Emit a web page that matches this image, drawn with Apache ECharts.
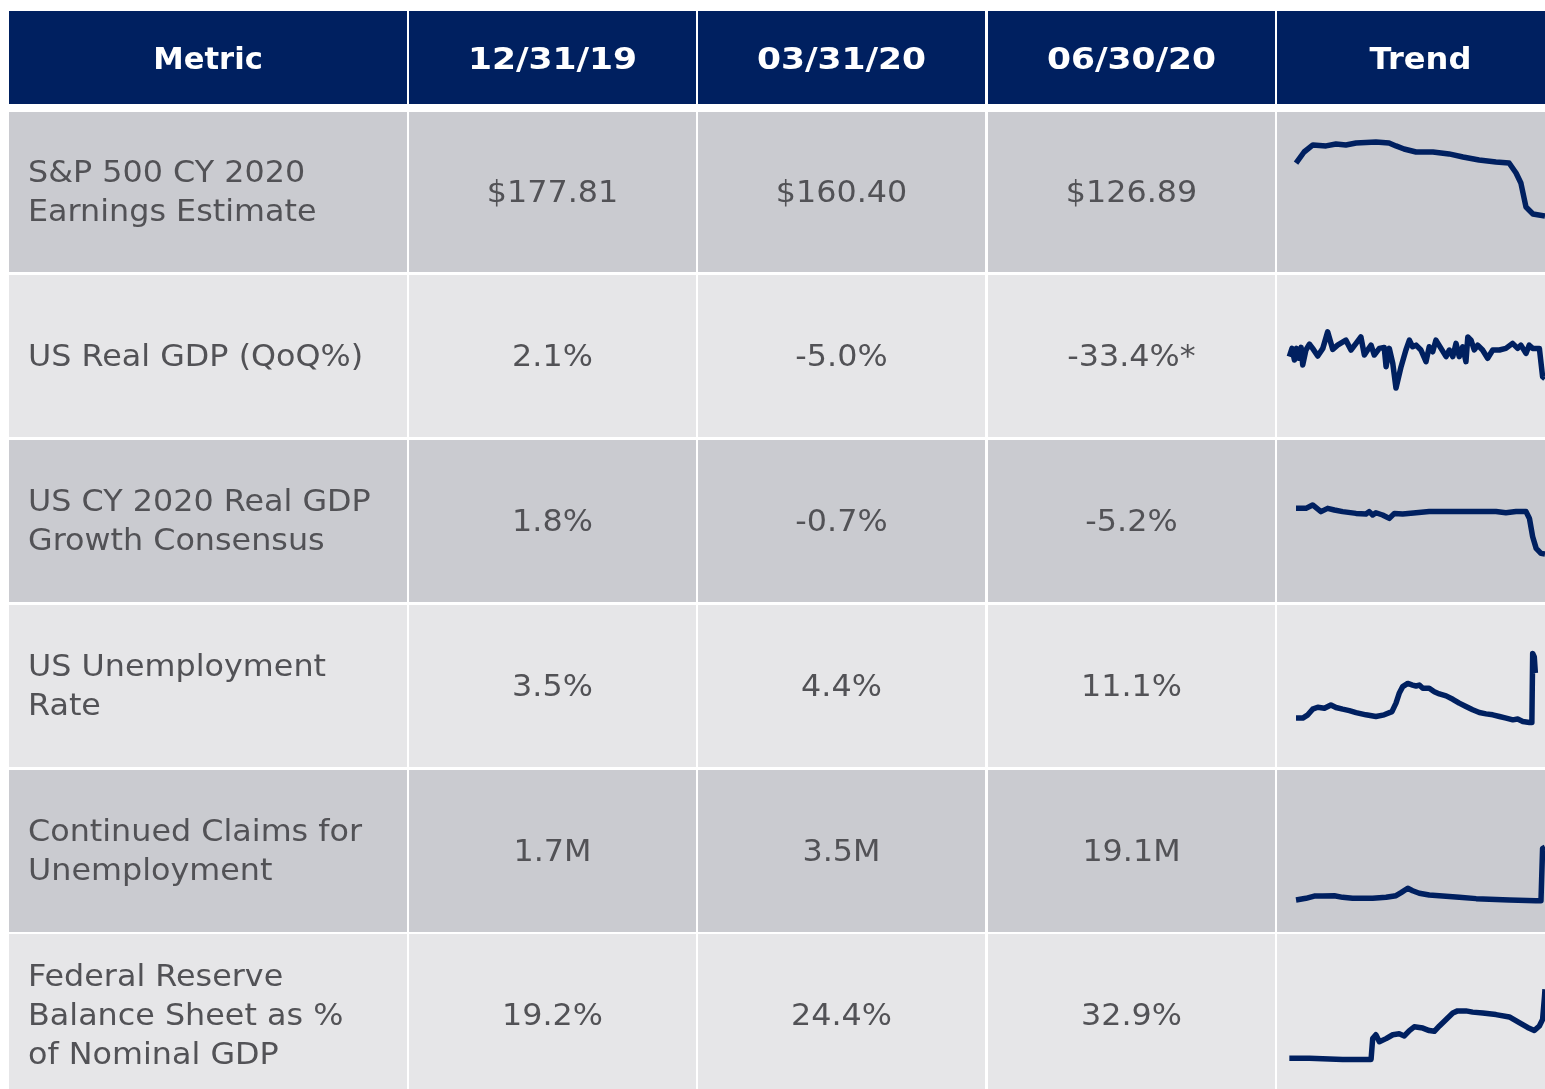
<!DOCTYPE html>
<html>
<head>
<meta charset="utf-8">
<style>
html, body {margin: 0; padding: 0; background: #fff}
#chart {width: 1545px; height: 1089px}
</style>
</head>
<body>
<div id="chart"></div>
<script src="https://cdn.jsdelivr.net/npm/echarts@6/dist/echarts.min.js"></script>
<script>
// table content
var headers = ['Metric', '12/31/19', '03/31/20', '06/30/20', 'Trend'];
var metrics = [
    'S&P 500 CY 2020\nEarnings Estimate',
    'US Real GDP (QoQ%)',
    'US CY 2020 Real GDP\nGrowth Consensus',
    'US Unemployment\nRate',
    'Continued Claims for\nUnemployment',
    'Federal Reserve\nBalance Sheet as %\nof Nominal GDP'
];
var val1219 = ['$177.81', '2.1%', '1.8%', '3.5%', '1.7M', '19.2%'];
var val0331 = ['$160.40', '-5.0%', '-0.7%', '4.4%', '3.5M', '24.4%'];
var val0630 = ['$126.89', '-33.4%*', '-5.2%', '11.1%', '19.1M', '32.9%'];

// sparklines: [relative time 0-100, relative level 0-100 of the cell]
var trendEarnings = [[7.1,68.1],[10.1,75],[13.4,79.4],[18.3,78.8],[22,80],[25.7,79.4],[29.5,80.6],[36.9,81.3],
    [41.8,80.6],[44.4,78.8],[47.4,76.9],[51.9,75],[58.2,75],[64.2,73.8],[69.4,71.9],[75.4,70],[81.7,68.8],
    [86.6,68.1],[89.2,61.9],[91,55.6],[92.9,40.6],[95.5,36.3],[100,35]];
var trendGdp = [[4.6,49.6],[5.6,54.7],[6.5,47.5],[7.3,54.7],[8.1,48.6],[9,55.3],[9.6,44.5],[10.8,53.7],
    [12.1,57.4],[13.3,54.7],[15.2,50],[17.1,54.7],[18.9,64.9],[20.8,54.1],[22.6,56.7],[25.7,59.8],[27.6,53.7],
    [29.5,57.8],[31.3,61.8],[32.6,50.6],[33.8,53.7],[35.1,56.7],[36.3,50.6],[38.2,54.7],[40,55.3],[40.7,43.4],
    [41.9,54.7],[43.2,45.5],[44.4,30.2],[46.3,43.4],[48.1,53.7],[49.4,59.8],[50.6,55.7],[51.9,56.7],[53.7,53.7],
    [55.6,46.5],[56.8,55.7],[58.1,52.6],[59.3,59.8],[61.2,54.7],[63.1,49.6],[64.3,53.7],[65.6,49.6],[66.8,57.8],
    [68,49.6],[69.3,55.7],[70.5,46.5],[71.2,61.8],[72.4,59.8],[73.6,53.7],[74.9,56.7],[76.7,53.7],[78.6,48.6],
    [80.5,53.7],[83,53.7],[85.4,54.7],[87.9,57.8],[89.8,54.7],[91,56.7],[92.9,51.6],[94.1,56.7],[95.4,54.7],
    [97.9,54.7],[99.1,37.3],[100,36]];
var trendConsensus = [[7.1,57.8],[10.8,57.8],[13.3,59.9],[16.4,55.8],[18.9,57.8],[21.4,56.8],[24.5,55.8],
    [29.5,54.7],[33.2,54.3],[34.4,55.8],[35.7,53.7],[36.9,55.1],[39.4,53.7],[41.9,51.6],[43.8,54.7],[46.9,54.3],
    [51.9,55.1],[56.8,55.8],[66.8,55.8],[76.8,55.8],[81.7,55.8],[85.4,55.1],[89.2,55.8],[92.9,55.8],[94.2,51.6],
    [95.4,40.3],[96.7,33.1],[98.5,30],[100,29.6]];
var trendUnemp = [[7.1,30.2],[9.6,30.2],[11.5,32.2],[13.3,35.7],[15.2,36.9],[17.7,36.3],[20.1,38.3],[22,36.7],
    [24.5,35.7],[27,34.8],[29.5,33.6],[33.2,32.2],[36.9,31.2],[40,32.2],[42.9,34.2],[44.4,39.4],[45.6,45.5],
    [46.9,49.6],[48.8,51.6],[50.6,50.6],[51.9,50],[53.1,50.6],[54.4,48.6],[56.8,48.6],[58.7,46.5],[60.6,45.1],
    [63.1,43.9],[65.6,41.8],[68,39.4],[70.5,37.3],[73,35.3],[75.5,33.6],[78,32.8],[80.5,32.2],[83,31.2],
    [85.5,30.2],[88,29.1],[89.8,29.6],[91.7,28.1],[94.2,27.5],[95.1,27.5],[95.4,70.1],[96,68],[96.4,58]];
var trendClaims = [[7.1,19.8],[10.8,20.8],[13.9,22.2],[17.1,22.2],[21.4,22.4],[24.5,21.4],[28.2,20.8],
    [32,20.8],[35.7,20.8],[40.7,21.4],[44.4,22.4],[46.3,24.3],[48.8,27],[50.6,25.5],[53.1,23.9],[56.8,22.8],
    [61.8,22.2],[68,21.4],[74.3,20.6],[86.7,19.8],[96.6,19.3],[98.5,19.3],[99.1,51.6],[100,52.3]];
var trendFed = [[4.6,19.8],[12.1,19.8],[24.5,19.1],[35.1,19.1],[35.7,32.5],[36.9,35],[38.2,30.5],[40.7,32.5],
    [43.2,35],[45.6,35.6],[47.5,34.2],[49.4,37.7],[51.2,40.1],[54.4,39.3],[56.8,37.7],[58.7,37.2],[60.6,40.7],
    [63.1,44.9],[65.6,49],[67.4,50.4],[70.5,50.4],[73,49.6],[76.8,49],[81.7,48],[86.7,46.5],[90.4,42.8],
    [93.5,39.7],[96,37.7],[97.9,40.7],[99.1,44.9],[99.8,59.3],[100,64.4]];

var trends = [trendEarnings, trendGdp, trendConsensus, trendUnemp, trendClaims, trendFed];

// layout
var colX = [9, 409, 698, 988, 1277];
var colW = [398, 287, 287, 287, 287];
var headTop = 11, headH = 93;
var rowTop = [112, 275, 440, 605, 770, 934];
var rowH = [160, 162, 162, 162, 162, 162];
var headStretch = [1.02, 1.15, 1.15, 1.15, 1.07]; // Verdana is wider than DejaVu
var navy = '#002060';
var font = 'Verdana, "DejaVu Sans", sans-serif';

var graphic = [];
headers.forEach(function (h, c) {
    graphic.push({type: 'rect', z: 0, shape: {x: colX[c], y: headTop, width: colW[c], height: headH},
        style: {fill: navy}});
    graphic.push({type: 'text', z: 1, x: colX[c] + colW[c] / 2, y: headTop + headH / 2 + 4,
        scaleX: headStretch[c],
        style: {text: h, fill: '#fff', font: 'bold 30px ' + font, align: 'center', verticalAlign: 'middle'}});
});
var cols = [metrics, val1219, val0331, val0630];
rowTop.forEach(function (top, r) {
    var fill = r % 2 === 0 ? '#CACBD0' : '#E6E6E8';
    for (var c = 0; c < 5; c++) {
        graphic.push({type: 'rect', z: 0, shape: {x: colX[c], y: top, width: colW[c], height: rowH[r]},
            style: {fill: fill}});
        if (c < 4) {
            graphic.push({type: 'text', z: 1,
                x: c === 0 ? 28 : colX[c] + colW[c] / 2, y: top + rowH[r] / 2 + 2,
                scaleX: 1.06,
                style: {text: cols[c][r], fill: '#525256', font: '30px ' + font, lineHeight: 39,
                    align: c === 0 ? 'left' : 'center', verticalAlign: 'middle'}});
        }
    }
});

var grid = [], xAxis = [], yAxis = [], series = [];
trends.forEach(function (d, i) {
    grid.push({left: 1277, width: 268, top: rowTop[i], height: rowH[i]});
    xAxis.push({type: 'value', gridIndex: i, min: 0, max: 100, show: false});
    yAxis.push({type: 'value', gridIndex: i, min: 0, max: 100, show: false});
    series.push({type: 'line', xAxisIndex: i, yAxisIndex: i, data: d, showSymbol: false, z: 10,
        silent: true, clip: false, lineStyle: {color: navy, width: 5.5, join: 'round'}});
});

var chart = echarts.init(document.getElementById('chart'));
chart.setOption({
    animation: false,
    backgroundColor: '#fff',
    graphic: graphic,
    grid: grid,
    xAxis: xAxis,
    yAxis: yAxis,
    series: series
});
</script>
</body>
</html>
